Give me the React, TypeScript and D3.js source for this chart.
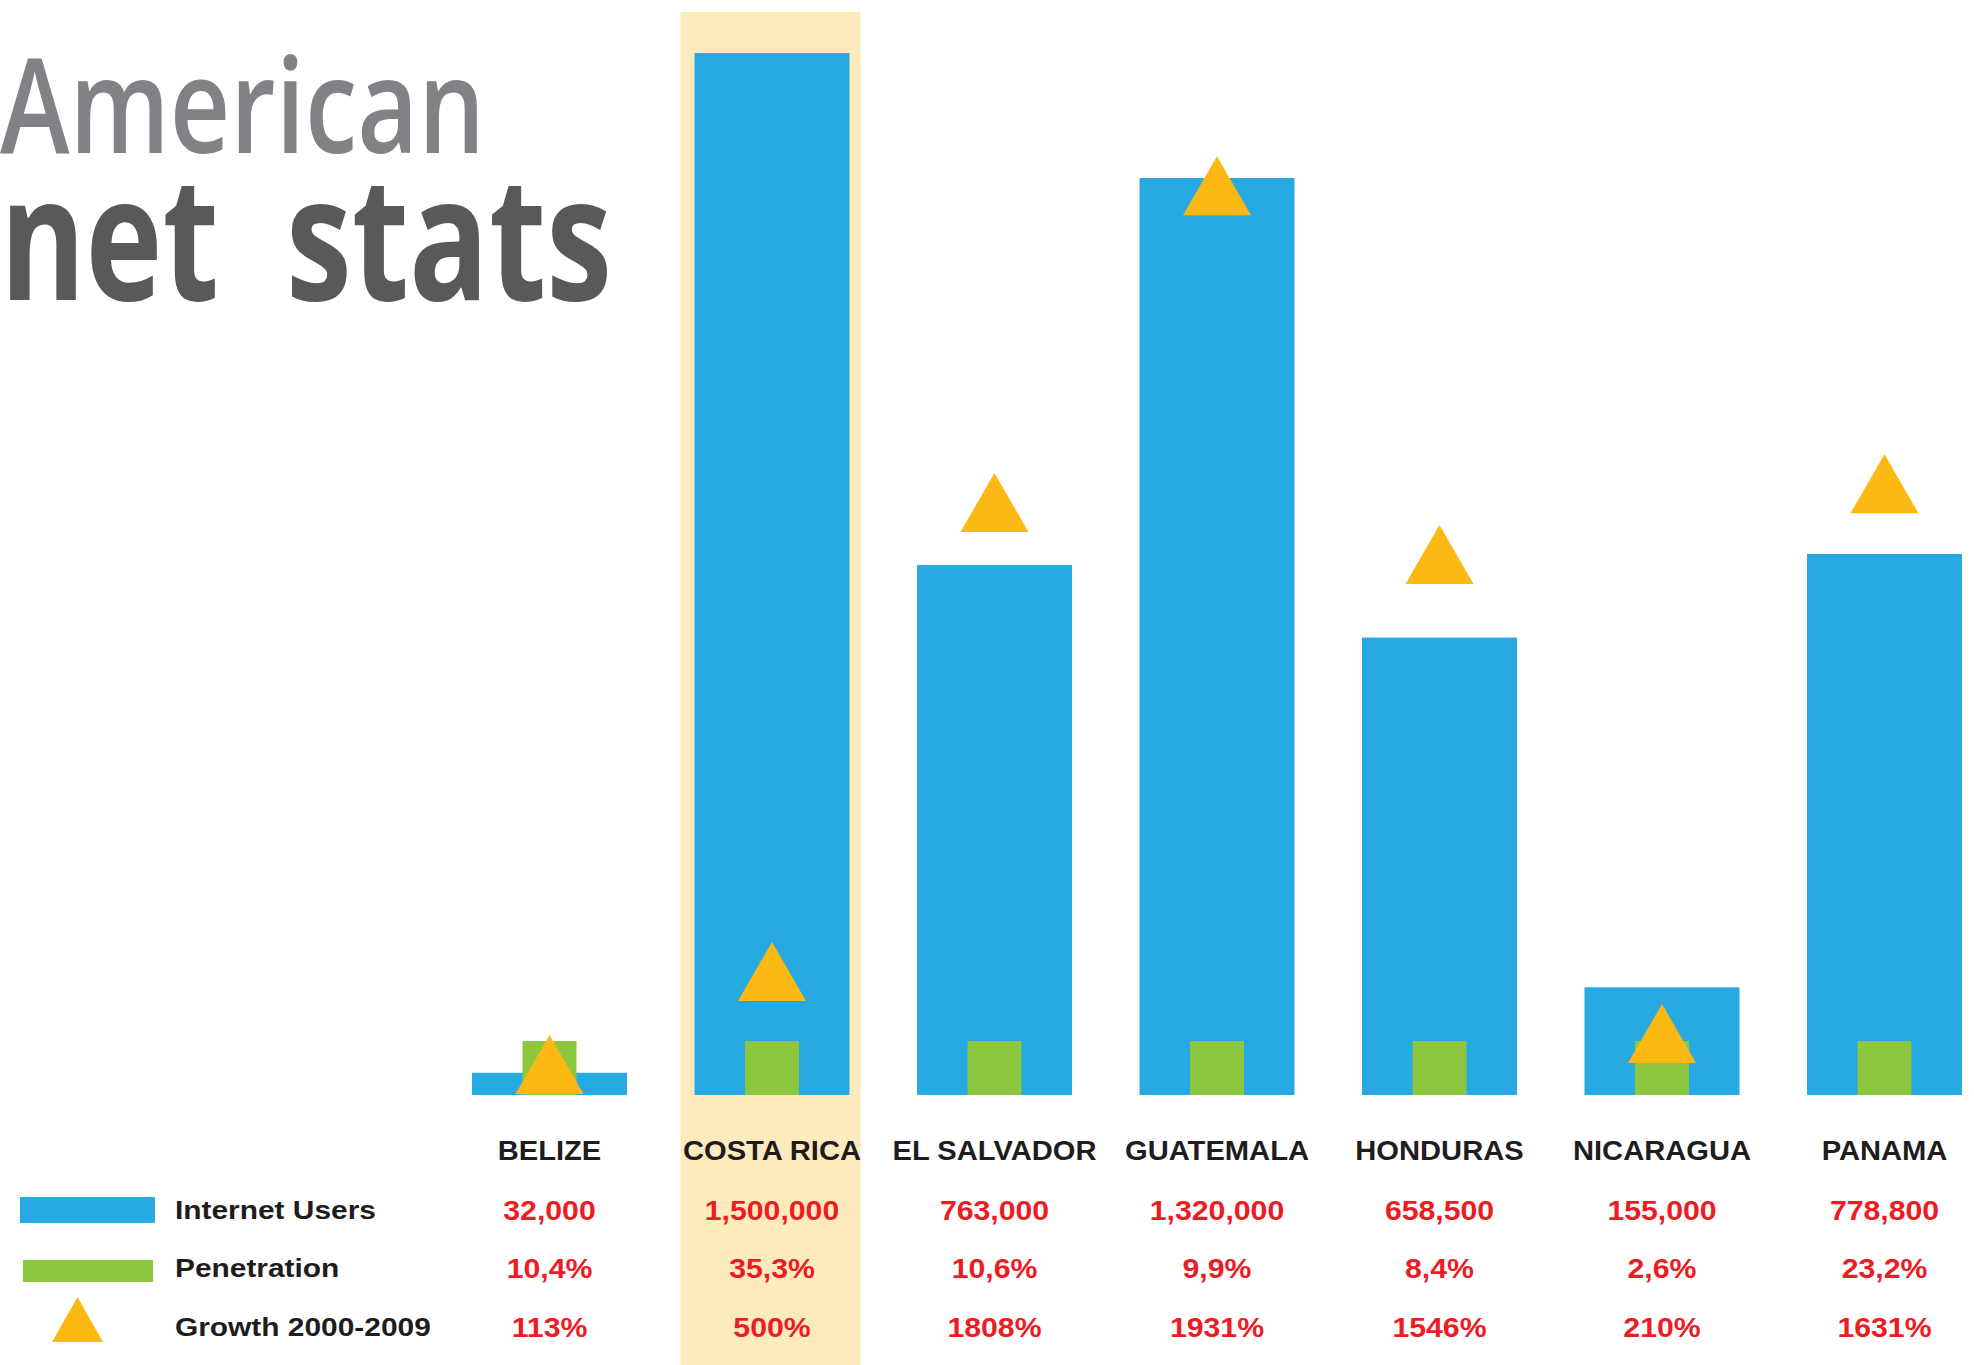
import React from "react";
import * as d3 from "d3";

// ---- data ----
const countries = ["BELIZE", "COSTA RICA", "EL SALVADOR", "GUATEMALA", "HONDURAS", "NICARAGUA", "PANAMA"];
const internetUsers = [32000, 1500000, 763000, 1320000, 658500, 155000, 778800];
const penetration = [10.4, 35.3, 10.6, 9.9, 8.4, 2.6, 23.2];
const growth = [113, 500, 1808, 1931, 1546, 210, 1631];
// level (in internet-user units) where each growth marker sits
const growthMarkerLevel = [0, 134000, 809000, 1265000, 734000, 44600, 836000];
const highlighted = "COSTA RICA";
const titleLine1 = "American";
const titleLine2a = "net";
const titleLine2b = "stats";
const legendItems = ["Internet Users", "Penetration", "Growth 2000-2009"];

// ---- style ----
const W = 1974;
const H = 1365;
const BLUE = "#27a9e1";
const GREEN = "#8dc63f";
const ORANGE = "#fdb913";
const HIGHLIGHT = "#feebbd";
const RED = "#ed1c24";
const INK = "#1f1c1d";
const FONT = "'Liberation Sans', Arial, Helvetica, sans-serif";
const TITLE_FONT = "'Open Sans', 'Noto Sans', sans-serif";

export default function App() {
  const x = d3
    .scaleBand<string>()
    .domain(countries)
    .range([438.25, 1995.75])
    .paddingInner(0.3034)
    .paddingOuter(0.1517);
  const y = d3.scaleLinear().domain([0, 1500000]).range([1095, 53]);
  const bw = x.bandwidth();
  const fmtUsers = d3.format(",");
  const fmtPen = (v: number) => v.toFixed(1).replace(".", ",") + "%";
  const fmtGrowth = (v: number) => `${v}%`;

  const triW = 68;
  const triH = 59;
  const sqW = 54;
  const sqH = 54;

  const tri = (cx: number, baseY: number, w: number, h: number) => {
    const p = d3.path();
    p.moveTo(cx, baseY - h);
    p.lineTo(cx + w / 2, baseY);
    p.lineTo(cx - w / 2, baseY);
    p.closePath();
    return p.toString();
  };

  const rows = [
    { base: 1220, fmt: (i: number) => fmtUsers(internetUsers[i]) },
    { base: 1278, fmt: (i: number) => fmtPen(penetration[i]) },
    { base: 1337, fmt: (i: number) => fmtGrowth(growth[i]) },
  ];

  return (
    <svg
      width={W}
      height={H}
      viewBox={`0 0 ${W} ${H}`}
      style={{ position: "absolute", left: 0, top: 0, background: "#fff" }}
    >
      {/* highlight band */}
      <rect
        x={(x(highlighted) ?? 0) - 14}
        y={12}
        width={bw + 25}
        height={H - 12}
        fill={HIGHLIGHT}
      />

      {/* title */}
      <text fontFamily={TITLE_FONT} fontWeight={600} fontSize={133} fill="#808285">
        <tspan x={0} y={153} textLength={485} lengthAdjust="spacingAndGlyphs">
          {titleLine1}
        </tspan>
      </text>
      <text fontFamily={TITLE_FONT} fontWeight={700} fontSize={172} fill="#58595b">
        <tspan x={0} y={300} textLength={219} lengthAdjust="spacingAndGlyphs">
          {titleLine2a}
        </tspan>
        <tspan x={286} y={300} textLength={326} lengthAdjust="spacingAndGlyphs">
          {titleLine2b}
        </tspan>
      </text>

      {/* bars */}
      {countries.map((c, i) => (
        <rect
          key={"b" + c}
          x={x(c)}
          y={y(internetUsers[i])}
          width={bw}
          height={y(0) - y(internetUsers[i])}
          fill={BLUE}
        />
      ))}

      {/* penetration squares */}
      {countries.map((c) => (
        <rect
          key={"g" + c}
          x={(x(c) ?? 0) + bw / 2 - sqW / 2}
          y={y(0) - sqH}
          width={sqW}
          height={sqH}
          fill={GREEN}
        />
      ))}

      {/* growth markers */}
      {countries.map((c, i) => (
        <path
          key={"t" + c}
          d={tri((x(c) ?? 0) + bw / 2, y(growthMarkerLevel[i]) - 1, triW, triH)}
          fill={ORANGE}
        />
      ))}

      {/* category labels */}
      {countries.map((c) => (
        <text
          key={"l" + c}
          transform={`translate(${(x(c) ?? 0) + bw / 2},1160) scale(1.06,1)`}
          textAnchor="middle"
          fontFamily={FONT}
          fontWeight={700}
          fontSize={27.5}
          fill={INK}
        >
          {c}
        </text>
      ))}

      {/* value rows */}
      {rows.map((r, ri) =>
        countries.map((c, i) => (
          <text
            key={"v" + ri + c}
            transform={`translate(${(x(c) ?? 0) + bw / 2},${r.base}) scale(1.08,1)`}
            textAnchor="middle"
            fontFamily={FONT}
            fontWeight={700}
            fontSize={28}
            fill={RED}
          >
            {r.fmt(i)}
          </text>
        ))
      )}

      {/* legend */}
      <rect x={20} y={1197} width={135} height={26} fill={BLUE} />
      <rect x={23} y={1260} width={130} height={22} fill={GREEN} />
      <path d={tri(77.5, 1342, 51, 45)} fill={ORANGE} />
      {legendItems.map((t, i) => (
        <text
          key={"lg" + i}
          transform={`translate(175,${rows[i].base - 1}) scale(1.15,1)`}
          fontFamily={FONT}
          fontWeight={700}
          fontSize={26}
          fill={INK}
        >
          {t}
        </text>
      ))}
    </svg>
  );
}
